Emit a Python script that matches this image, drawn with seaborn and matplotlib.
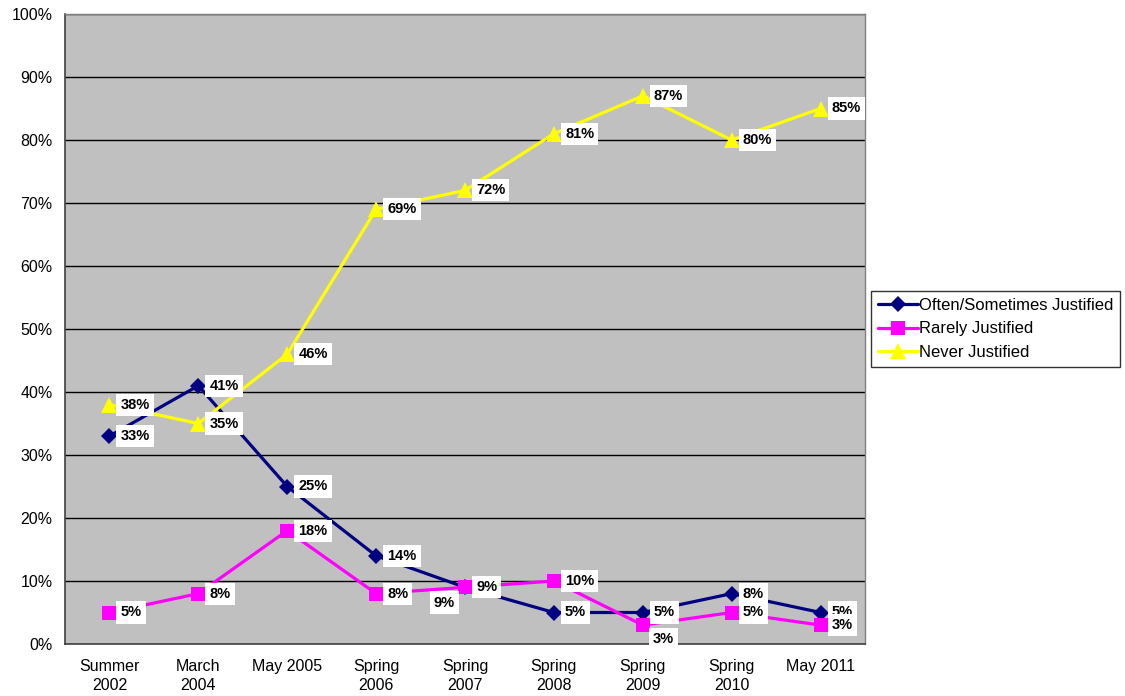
import matplotlib
matplotlib.use("Agg")
import matplotlib.pyplot as plt
import seaborn as sns
import pandas as pd
import numpy as np

# Survey waves
periods = ["Summer\n2002", "March\n2004", "May 2005", "Spring\n2006", "Spring\n2007",
           "Spring\n2008", "Spring\n2009", "Spring\n2010", "May 2011"]

# Share of respondents (%) per answer
often_sometimes = [33, 41, 25, 14, 9, 5, 5, 8, 5]
rarely = [5, 8, 18, 8, 9, 10, 3, 5, 3]
never = [38, 35, 46, 69, 72, 81, 87, 80, 85]

series_names = ["Often/Sometimes Justified", "Rarely Justified", "Never Justified"]
series_values = [often_sometimes, rarely, never]
colors = {"Often/Sometimes Justified": "#000080",
          "Rarely Justified": "#FF00FF",
          "Never Justified": "#FFFF00"}
markers = {"Often/Sometimes Justified": "D",
           "Rarely Justified": "s",
           "Never Justified": "^"}
msize = {"Often/Sometimes Justified": 8.5,
         "Rarely Justified": 9.5,
         "Never Justified": 11}

rows = []
for name, vals in zip(series_names, series_values):
    for i, v in enumerate(vals):
        rows.append({"idx": i, "value": v, "series": name})
df = pd.DataFrame(rows)

sns.set_theme(style="white")
plt.rcParams["font.family"] = ["Liberation Sans", "DejaVu Sans"]

fig = plt.figure(figsize=(11.25, 6.96), dpi=100)
ax = fig.add_axes([65 / 1125, 52 / 696, 800 / 1125, 630 / 696])
ax.set_facecolor("#C0C0C0")

for name in series_names:
    sub = df[df["series"] == name]
    sns.lineplot(data=sub, x="idx", y="value", color=colors[name], marker=markers[name],
                 markersize=msize[name], markeredgewidth=0, linewidth=2.3,
                 label=name, ax=ax, zorder=3)

ax.set_xlim(-0.5, len(periods) - 0.5)
ax.set_ylim(0, 100)
ax.set_yticks(np.arange(0, 101, 10))
ax.set_yticklabels([f"{v}%" for v in range(0, 101, 10)], fontsize=11.5, color="black")
ax.set_xticks(range(len(periods)))
ax.set_xticklabels(periods, fontsize=11.5, color="black", linespacing=1.35)
ax.set_xticks(np.arange(-0.5, len(periods), 1.0), minor=True)
ax.tick_params(axis="x", which="major", length=0, pad=11)
ax.tick_params(axis="x", which="minor", length=5, width=1, color="#404040", direction="out")
ax.tick_params(axis="y", which="major", length=5, width=1, color="#404040", direction="out", pad=4)
ax.set_xlabel("")
ax.set_ylabel("")
ax.grid(axis="y", color="black", linewidth=1.0, zorder=1)
ax.set_axisbelow(True)
for side in ["left", "bottom"]:
    ax.spines[side].set_color("#404040")
    ax.spines[side].set_linewidth(1.2)
for side in ["top", "right"]:
    ax.spines[side].set_color("#808080")
    ax.spines[side].set_linewidth(1.0)

# Value labels: default to the right of each marker, a few nudged to avoid overlap
offsets = {("Often/Sometimes Justified", 4): (-15, -11),
           ("Rarely Justified", 6): (15, -10)}
label_z = {"Often/Sometimes Justified": 4, "Rarely Justified": 6, "Never Justified": 5}
for name, vals in zip(series_names, series_values):
    for i, v in enumerate(vals):
        dx, dy = offsets.get((name, i), (8, 0))
        ha = "left" if (name, i) not in offsets else "center"
        ax.annotate(f"{v}%", (i, v), xytext=(dx, dy), textcoords="offset points",
                    ha=ha, va="center", fontsize=10.5, fontweight="bold", color="black",
                    bbox=dict(boxstyle="square,pad=0.28", fc="white", ec="none"),
                    zorder=label_z[name], annotation_clip=False)

leg = ax.legend(loc="center left", bbox_to_anchor=(806 / 800, 0.5), frameon=True,
                fontsize=12, fancybox=False, edgecolor="black", borderaxespad=0,
                handlelength=2.4, handletextpad=0.1, labelspacing=0.5, borderpad=0.4)
leg.get_frame().set_linewidth(1.0)
for t in leg.get_texts():
    t.set_color("black")

fig.savefig("out.png", dpi=100, facecolor="white")
